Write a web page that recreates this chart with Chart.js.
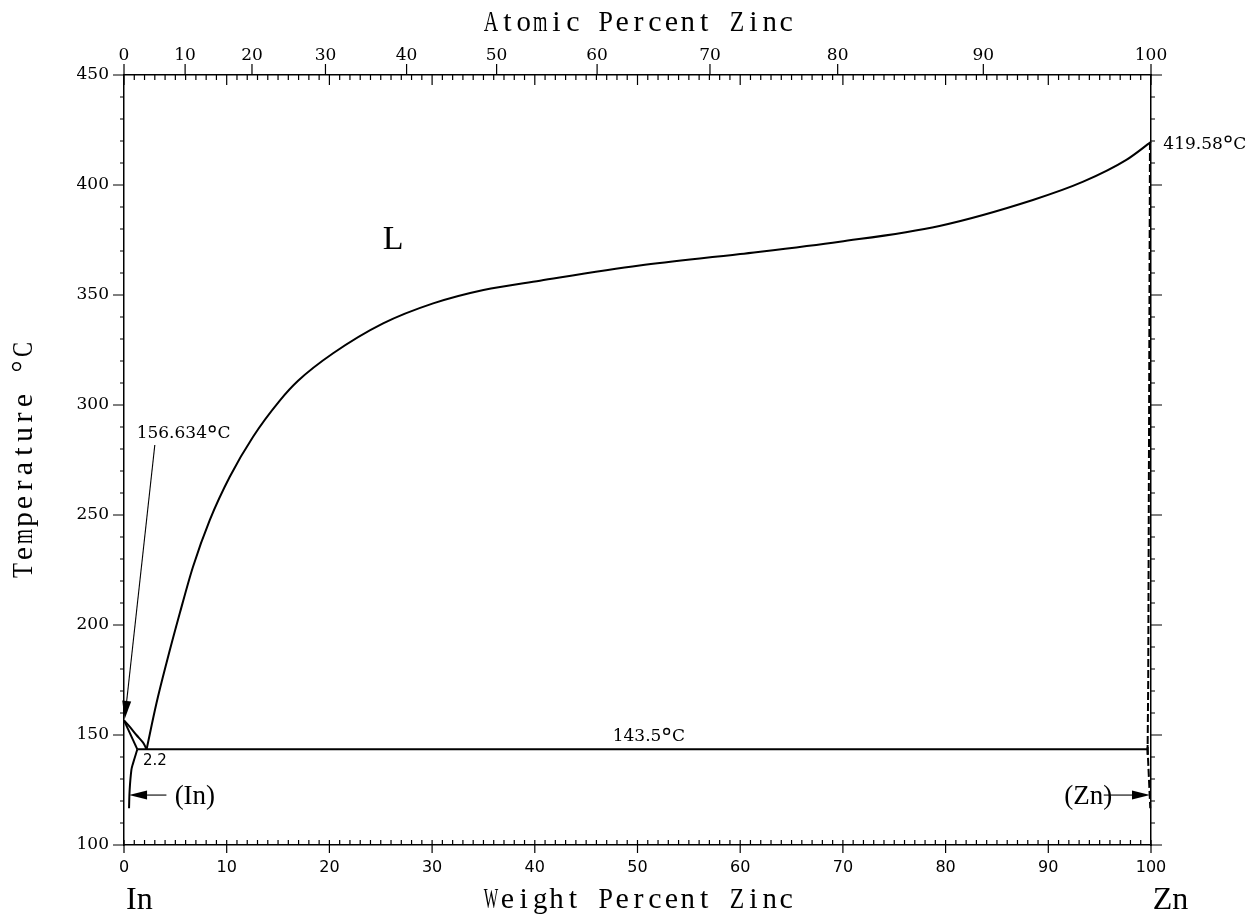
<!DOCTYPE html>
<html>
<head>
<meta charset="utf-8">
<script src="https://cdn.jsdelivr.net/npm/chart.js@4/dist/chart.umd.min.js"></script>
<style>
  body { margin: 0; background: #fff; }
  #wrap { width: 1250px; height: 916px; }
</style>
</head>
<body>
<div id="wrap"><canvas id="chart"></canvas></div>
<script>
// In-Zn phase diagram: weight percent zinc vs temperature

// curves as [wt% Zn, temperature °C]
const liquidus = [
    [2.2, 143.5], [3.16, 164.4], [4.13, 182.6], [5.43, 205.3], [6.72, 226.5],
    [8.35, 247.7], [10.3, 267.4], [12.57, 285.6], [15.17, 302.0], [16.95, 311.0],
    [20.36, 323.5], [25.23, 337.1], [30.1, 346.2], [35.0, 352.3], [40.5, 356.5],
    [50.2, 363.4], [60.0, 368.6], [69.7, 374.2], [79.4, 381.4],
    [88.5, 393.2], [93.4, 401.5], [97.6, 411.4], [100, 419.58]
]
const inLiquidus = [[0, 156.634], [0.55, 153.8], [1.21, 150], [1.86, 146.5], [2.2, 143.5]]
const inSolidus = [[0, 156.634], [1.3, 143.5]]
const inSolvus = [[1.3, 143.5], [0.88, 137.1], [0.72, 134.1], [0.55, 125], [0.49, 116.7]]
const eutectic = [[1.3, 143.5], [99.67, 143.5]]
const eutecticEnd = [[99.67, 145.5], [99.67, 141]]
const znSolvus = [[99.9, 419.58], [99.73, 175], [99.67, 143.5], [99.93, 116.7]]

// axis ticks
const weightTicks = [0, 10, 20, 30, 40, 50, 60, 70, 80, 90, 100]
const atomicTicks = [0, 10, 20, 30, 40, 50, 60, 70, 80, 90, 100]
const tempTicks = [100, 150, 200, 250, 300, 350, 400, 450]

const massIn = 114.818
const massZn = 65.38

function atToWt(a) {
    return 100 * a * massZn / (a * massZn + (100 - a) * massIn)
}

// text labels placed in data coordinates
const notes = [
    { text: 'L', x: 26.2, y: 375, font: '34px "Liberation Serif"' },
    { text: '143.5', deg: true, x: 51.1, y: 149.3, font: '17px "DejaVu Serif"' },
    { text: '2.2', x: 3.0, y: 138.2, font: '15px "DejaVu Sans"' },
    { text: '156.634', deg: true, x: 5.8, y: 286.8, font: '17px "DejaVu Serif"' },
    { text: '419.58', deg: true, x: 101.2, y: 418.6, font: '17px "DejaVu Serif"', align: 'left' },
    { text: '(In)', x: 6.9, y: 121.8, font: '27px "Liberation Serif"' },
    { text: '(Zn)', x: 93.9, y: 121.8, font: '27px "Liberation Serif"' }
]
const elementLabels = [
    { text: 'In', x: 1.5 },
    { text: 'Zn', x: 101.9 }
]
const arrows = [
    { from: [3.0, 281.8], to: [0.07, 157.3] },
    { from: [4.13, 122.7], to: [0.49, 122.7] },
    { from: [95.4, 122.7], to: [99.9, 122.7] }
]

const toPoints = list => list.map(([x, y]) => ({ x, y }))

function curve(list, opts = {}) {
    return Object.assign({
        data: toPoints(list),
        borderColor: '#000',
        borderWidth: 2,
        pointRadius: 0,
        tension: 0.4,
        fill: false,
        clip: false
    }, opts)
}

// typewriter style title: every character in a fixed cell, wide ones squeezed
function monoText(ctx, text, cx, cy, cell, rotate) {
    ctx.save()
    ctx.translate(cx, cy)
    if (rotate) ctx.rotate(-Math.PI / 2)
    ctx.textAlign = 'center'
    ctx.textBaseline = 'alphabetic'
    const start = -cell * text.length / 2 + cell / 2
    const maxW = cell * 0.88
    for (let i = 0; i < text.length; i++) {
        const w = ctx.measureText(text[i]).width
        const sx = w > maxW ? maxW / w : 1
        ctx.save()
        ctx.translate(start + i * cell, 0)
        ctx.scale(sx, 1)
        ctx.fillText(text[i], 0, 0)
        ctx.restore()
    }
    ctx.restore()
}

// number followed by a raised small circle and C, like the plotter font
function degText(ctx, text, px, py, align) {
    const w = ctx.measureText(text).width
    const size = parseFloat(ctx.font)
    const oW = size * 0.62
    const cW = ctx.measureText('C').width
    const total = w + oW + cW
    const left = align === 'left' ? px : px - total / 2
    ctx.textAlign = 'left'
    ctx.fillText(text, left, py)
    ctx.beginPath()
    ctx.lineWidth = 1.4
    ctx.arc(left + w + oW / 2, py - size * 0.3, size * 0.17, 0, Math.PI * 2)
    ctx.stroke()
    ctx.fillText('C', left + w + oW, py)
}

const decorations = {
    id: 'decorations',
    afterDraw(chart) {
        const { ctx, chartArea: area } = chart
        const x = chart.scales.x
        const y = chart.scales.y
        ctx.save()
        ctx.strokeStyle = '#000'
        ctx.fillStyle = '#000'
        ctx.lineWidth = 1.2

        // tick marks
        ctx.beginPath()
        for (let t = 100; t <= 450; t += 10) {
            const py = y.getPixelForValue(t)
            const len = tempTicks.includes(t) ? 11 : 4
            ctx.moveTo(area.left, py); ctx.lineTo(area.left - len, py)
            ctx.moveTo(area.right, py); ctx.lineTo(area.right + len, py)
        }
        for (let w = 0; w <= 100; w++) {
            const px = x.getPixelForValue(w)
            const major = weightTicks.includes(w)
            ctx.moveTo(px, area.bottom - 5); ctx.lineTo(px, area.bottom + (major ? 8 : 0))
            ctx.moveTo(px, area.top); ctx.lineTo(px, area.top + (major ? 10 : 5))
        }
        for (const a of atomicTicks) {
            const px = x.getPixelForValue(atToWt(a))
            ctx.moveTo(px, area.top); ctx.lineTo(px, area.top - 11)
        }
        ctx.stroke()

        // arrows
        ctx.lineWidth = 1.1
        for (const arr of arrows) {
            const x0 = x.getPixelForValue(arr.from[0]), y0 = y.getPixelForValue(arr.from[1])
            const x1 = x.getPixelForValue(arr.to[0]), y1 = y.getPixelForValue(arr.to[1])
            const ang = Math.atan2(y1 - y0, x1 - x0)
            const hl = 18, hw = 4.5
            const bx = x1 - hl * Math.cos(ang), by = y1 - hl * Math.sin(ang)
            ctx.beginPath()
            ctx.moveTo(x0, y0); ctx.lineTo(bx, by)
            ctx.stroke()
            ctx.beginPath()
            ctx.moveTo(x1, y1)
            ctx.lineTo(bx + hw * Math.sin(ang), by - hw * Math.cos(ang))
            ctx.lineTo(bx - hw * Math.sin(ang), by + hw * Math.cos(ang))
            ctx.closePath()
            ctx.fill()
        }

        // annotations
        ctx.textBaseline = 'middle'
        for (const n of notes) {
            ctx.font = n.font
            const px = x.getPixelForValue(n.x), py = y.getPixelForValue(n.y)
            if (n.deg) {
                degText(ctx, n.text, px, py, n.align)
            } else {
                ctx.textAlign = n.align || 'center'
                ctx.fillText(n.text, px, py)
            }
        }
        ctx.font = '32px "Liberation Serif"'
        ctx.textAlign = 'center'
        for (const e of elementLabels) {
            ctx.fillText(e.text, x.getPixelForValue(e.x), 901)
        }

        // axis titles
        const mid = (area.left + area.right) / 2
        ctx.font = '30px "Liberation Serif"'
        monoText(ctx, 'Atomic Percent Zinc', mid + 1, 31, 16.4, false)
        monoText(ctx, 'Weight Percent Zinc', mid + 1, 908, 16.4, false)
        monoText(ctx, 'Temperature °C', 32, (area.top + area.bottom) / 2, 17, true)
        ctx.restore()
    }
}

const axisBorder = { display: true, color: '#000', width: 1.5 }
const noGrid = { display: false, drawTicks: false }

new Chart(document.getElementById('chart'), {
    type: 'line',
    data: {
        datasets: [
            curve(liquidus, { cubicInterpolationMode: 'monotone' }),
            curve(inLiquidus),
            curve(inSolidus, { tension: 0 }),
            curve(inSolvus),
            curve(eutectic, { tension: 0 }),
            curve(eutecticEnd, { tension: 0 }),
            curve(znSolvus, { tension: 0, borderDash: [8, 3] })
        ]
    },
    options: {
        responsive: true,
        maintainAspectRatio: false,
        animation: false,
        events: [],
        layout: { padding: 0 },
        plugins: { legend: { display: false }, tooltip: { enabled: false } },
        scales: {
            x: {
                type: 'linear', position: 'bottom', min: 0, max: 100,
                grid: noGrid, border: axisBorder,
                afterBuildTicks: axis => { axis.ticks = weightTicks.map(v => ({ value: v })) },
                afterFit: axis => { axis.height = 71 },
                ticks: {
                    autoSkip: false, maxRotation: 0, padding: 13, color: '#000',
                    font: { family: 'DejaVu Sans', size: 16 }
                }
            },
            x2: {
                type: 'linear', position: 'top', min: 0, max: 100,
                grid: noGrid, border: axisBorder,
                afterBuildTicks: axis => { axis.ticks = atomicTicks.map(a => ({ value: atToWt(a) })) },
                afterFit: axis => { axis.height = 75 },
                ticks: {
                    autoSkip: false, maxRotation: 0, padding: 9, color: '#000',
                    font: { family: 'DejaVu Serif', size: 17 },
                    callback: (v, i) => String(atomicTicks[i])
                }
            },
            y: {
                type: 'linear', position: 'left', min: 100, max: 450,
                grid: noGrid, border: axisBorder,
                afterBuildTicks: axis => { axis.ticks = tempTicks.map(v => ({ value: v })) },
                afterFit: axis => { axis.width = 124 },
                ticks: {
                    autoSkip: false, padding: 15, color: '#000',
                    font: { family: 'DejaVu Serif', size: 17 }
                }
            },
            y2: {
                type: 'linear', position: 'right', min: 100, max: 450,
                grid: noGrid, border: axisBorder,
                ticks: { display: false },
                afterFit: axis => { axis.width = 99 }
            }
        }
    },
    plugins: [decorations]
})
</script>
</body>
</html>
